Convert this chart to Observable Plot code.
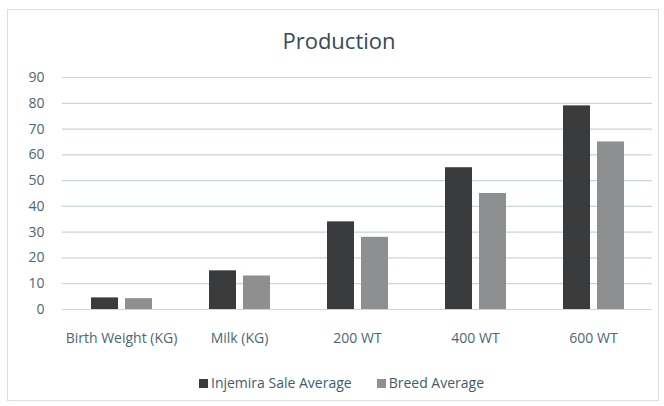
<!DOCTYPE html>
<html>
<head>
<meta charset="utf-8">
<script src="https://cdn.jsdelivr.net/npm/d3@7"></script>
<script src="https://cdn.jsdelivr.net/npm/@observablehq/plot@0.6"></script>
<style>
  html, body { margin: 0; padding: 0; background: #fff; }
  #wrap { position: relative; width: 664px; height: 406px; overflow: hidden; background: #fff; font-family: "Open Sans", sans-serif; }
  #frame { position: absolute; left: 7px; top: 9px; width: 652px; height: 392px; border: 1px solid #d8e0e6; box-sizing: border-box; }
  #title { position: absolute; left: 0; top: 29px; width: 678px; text-align: center; font-size: 22px; line-height: 22px; color: #37495a; }
  #chart { position: absolute; left: 0; top: 61px; }
  #legend { position: absolute; left: 0; top: 376px; width: 683px; display: flex; justify-content: center; align-items: center; font-size: 14px; line-height: 14px; color: #3f5b6e; }
  .item { display: flex; align-items: center; }
  .item + .item { margin-left: 25px; }
  .sw { width: 9px; height: 9px; margin-right: 3px; }
</style>
</head>
<body>
<div id="wrap">
  <div id="frame"></div>
  <div id="title">Production</div>
  <div id="chart"></div>
  <div id="legend"></div>
</div>
<script>
const categories = ["Birth Weight (KG)", "Milk (KG)", "200 WT", "400 WT", "600 WT"];
const series = ["Injemira Sale Average", "Breed Average"];
const injemira = [4.5, 15, 34, 55, 79];
const breed = [4.2, 13, 28, 45, 65];
const yTicks = [0, 10, 20, 30, 40, 50, 60, 70, 80, 90];
const colors = ["#3a3b3d", "#8d8f91"];

const rows = [];
categories.forEach((c, i) => {
  rows.push({category: c, series: series[0], value: injemira[i]});
  rows.push({category: c, series: series[1], value: breed[i]});
});

const chart = Plot.plot({
  width: 664,
  height: 290,
  marginTop: 16,
  marginBottom: 42,
  marginLeft: 62,
  marginRight: 12,
  style: {fontFamily: "Open Sans", fontSize: "14px", color: "#4b6677", background: "transparent", overflow: "visible"},
  facet: {data: rows, x: "category"},
  fx: {domain: categories, padding: 0, axis: "bottom", label: null, tickSize: 0, tickPadding: 24},
  x: {domain: series, axis: null, paddingInner: 0.22, paddingOuter: 0.845},
  y: {domain: [0, 90], ticks: yTicks, tickSize: 0, tickPadding: 18, label: null},
  color: {domain: series, range: colors},
  marks: [
    Plot.ruleY(yTicks, {stroke: "#c7d5df", strokeWidth: 1.2, facet: false}),
    Plot.barY(rows, {x: "series", y: "value", fill: "series"})
  ]
});
document.getElementById("chart").appendChild(chart);

const legend = document.getElementById("legend");
series.forEach((s, i) => {
  const item = document.createElement("div");
  item.className = "item";
  const sw = document.createElement("div");
  sw.className = "sw";
  sw.style.background = colors[i];
  const t = document.createElement("span");
  t.textContent = s;
  item.appendChild(sw);
  item.appendChild(t);
  legend.appendChild(item);
});
</script>
</body>
</html>
